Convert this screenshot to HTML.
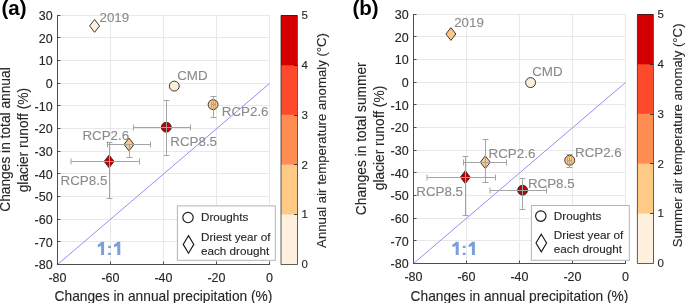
<!DOCTYPE html>
<html><head><meta charset="utf-8"><style>
html,body{margin:0;padding:0;background:#fff;overflow:hidden;}
svg{display:block;font-family:"Liberation Sans", sans-serif;will-change:transform;} .dk{stroke:#262626;stroke-width:0.12px} .gy{stroke:#8a8a8a;stroke-width:0.1px}
</style></head><body>
<svg width="685" height="303" viewBox="0 0 685 303">
<rect width="685" height="303" fill="#fff"/>
<text x="1.5" y="14.8" font-size="20.5" font-weight="bold" fill="#000" stroke="none">(a)</text>
<line x1="57.5" x2="270.0" y1="15.5" y2="15.5" stroke="#e8e8e8" stroke-width="1"/>
<line x1="57.5" x2="270.0" y1="37.5" y2="37.5" stroke="#e8e8e8" stroke-width="1"/>
<line x1="57.5" x2="270.0" y1="60.5" y2="60.5" stroke="#e8e8e8" stroke-width="1"/>
<line x1="57.5" x2="270.0" y1="83.5" y2="83.5" stroke="#e8e8e8" stroke-width="1"/>
<line x1="57.5" x2="270.0" y1="105.5" y2="105.5" stroke="#e8e8e8" stroke-width="1"/>
<line x1="57.5" x2="270.0" y1="128.5" y2="128.5" stroke="#e8e8e8" stroke-width="1"/>
<line x1="57.5" x2="270.0" y1="151.5" y2="151.5" stroke="#e8e8e8" stroke-width="1"/>
<line x1="57.5" x2="270.0" y1="173.5" y2="173.5" stroke="#e8e8e8" stroke-width="1"/>
<line x1="57.5" x2="270.0" y1="196.5" y2="196.5" stroke="#e8e8e8" stroke-width="1"/>
<line x1="57.5" x2="270.0" y1="219.5" y2="219.5" stroke="#e8e8e8" stroke-width="1"/>
<line x1="57.5" x2="270.0" y1="241.5" y2="241.5" stroke="#e8e8e8" stroke-width="1"/>
<line x1="110.5" x2="110.5" y1="15" y2="264" stroke="#e8e8e8" stroke-width="1"/>
<line x1="163.5" x2="163.5" y1="15" y2="264" stroke="#e8e8e8" stroke-width="1"/>
<line x1="216.5" x2="216.5" y1="15" y2="264" stroke="#e8e8e8" stroke-width="1"/>
<line x1="269.5" x2="269.5" y1="15" y2="264" stroke="#e8e8e8" stroke-width="1"/>
<line x1="57.5" y1="264.5" x2="269.5" y2="83.5" stroke="#9090f8" stroke-width="1"/>
<line x1="57.5" x2="57.5" y1="15" y2="265" stroke="#4d4d4d" stroke-width="1"/>
<line x1="57.0" x2="270.0" y1="264.5" y2="264.5" stroke="#4d4d4d" stroke-width="1"/>
<line x1="57.5" x2="60.5" y1="15.5" y2="15.5" stroke="#4d4d4d" stroke-width="1"/>
<line x1="57.5" x2="60.5" y1="37.5" y2="37.5" stroke="#4d4d4d" stroke-width="1"/>
<line x1="57.5" x2="60.5" y1="60.5" y2="60.5" stroke="#4d4d4d" stroke-width="1"/>
<line x1="57.5" x2="60.5" y1="83.5" y2="83.5" stroke="#4d4d4d" stroke-width="1"/>
<line x1="57.5" x2="60.5" y1="105.5" y2="105.5" stroke="#4d4d4d" stroke-width="1"/>
<line x1="57.5" x2="60.5" y1="128.5" y2="128.5" stroke="#4d4d4d" stroke-width="1"/>
<line x1="57.5" x2="60.5" y1="151.5" y2="151.5" stroke="#4d4d4d" stroke-width="1"/>
<line x1="57.5" x2="60.5" y1="173.5" y2="173.5" stroke="#4d4d4d" stroke-width="1"/>
<line x1="57.5" x2="60.5" y1="196.5" y2="196.5" stroke="#4d4d4d" stroke-width="1"/>
<line x1="57.5" x2="60.5" y1="219.5" y2="219.5" stroke="#4d4d4d" stroke-width="1"/>
<line x1="57.5" x2="60.5" y1="241.5" y2="241.5" stroke="#4d4d4d" stroke-width="1"/>
<line x1="110.5" x2="110.5" y1="261.5" y2="264" stroke="#4d4d4d" stroke-width="1"/>
<line x1="163.5" x2="163.5" y1="261.5" y2="264" stroke="#4d4d4d" stroke-width="1"/>
<line x1="216.5" x2="216.5" y1="261.5" y2="264" stroke="#4d4d4d" stroke-width="1"/>
<line x1="269.5" x2="269.5" y1="261.5" y2="264" stroke="#4d4d4d" stroke-width="1"/>
<text x="52.6" y="20.05" font-size="12.5" text-anchor="end" class="dk" fill="#262626">30</text>
<text x="52.6" y="42.71" font-size="12.5" text-anchor="end" class="dk" fill="#262626">20</text>
<text x="52.6" y="65.37" font-size="12.5" text-anchor="end" class="dk" fill="#262626">10</text>
<text x="52.6" y="88.03" font-size="12.5" text-anchor="end" class="dk" fill="#262626">0</text>
<text x="52.6" y="110.69" font-size="12.5" text-anchor="end" class="dk" fill="#262626">-10</text>
<text x="52.6" y="133.35" font-size="12.5" text-anchor="end" class="dk" fill="#262626">-20</text>
<text x="52.6" y="156.01" font-size="12.5" text-anchor="end" class="dk" fill="#262626">-30</text>
<text x="52.6" y="178.67" font-size="12.5" text-anchor="end" class="dk" fill="#262626">-40</text>
<text x="52.6" y="201.33" font-size="12.5" text-anchor="end" class="dk" fill="#262626">-50</text>
<text x="52.6" y="223.99" font-size="12.5" text-anchor="end" class="dk" fill="#262626">-60</text>
<text x="52.6" y="246.65" font-size="12.5" text-anchor="end" class="dk" fill="#262626">-70</text>
<text x="52.6" y="269.31" font-size="12.5" text-anchor="end" class="dk" fill="#262626">-80</text>
<text x="57.5" y="282.2" font-size="12.5" text-anchor="middle" class="dk" fill="#262626">-80</text>
<text x="110.5" y="282.2" font-size="12.5" text-anchor="middle" class="dk" fill="#262626">-60</text>
<text x="163.5" y="282.2" font-size="12.5" text-anchor="middle" class="dk" fill="#262626">-40</text>
<text x="216.5" y="282.2" font-size="12.5" text-anchor="middle" class="dk" fill="#262626">-20</text>
<text x="269.5" y="282.2" font-size="12.5" text-anchor="middle" class="dk" fill="#262626">0</text>
<text x="163.5" y="300.6" font-size="13.75" text-anchor="middle" class="dk" fill="#262626">Changes in annual precipitation (%)</text>
<text transform="translate(10,139.55) rotate(-90)" font-size="13.75" text-anchor="middle" class="dk" fill="#262626">Changes in total annual</text>
<text transform="translate(28.2,140.1) rotate(-90)" font-size="13.75" text-anchor="middle" class="dk" fill="#262626">glacier runoff (%)</text>
<path d="M101.10 241.8 L104.10 241.8 L104.10 255.1 L101.10 255.1 L101.10 245.9 L97.80 247.3 L97.80 244.6 L100.10 243.3 L101.10 241.8 ZM117.30 241.8 L120.30 241.8 L120.30 255.1 L117.30 255.1 L117.30 245.9 L114.00 247.3 L114.00 244.6 L116.30 243.3 L117.30 241.8 ZM108.20 245.8 h2.7 v2.3 h-2.7 Z M108.20 252.7 h2.7 v2.4 h-2.7 Z" fill="#7b9fdb"/>
<path class="mk" d="M94.6 19.5 L99.6 25.9 L94.6 32.3 L89.6 25.9 Z" fill="#feefdc" stroke="#303030" stroke-width="0.95"/>
<text class="ann gy" x="99.5" y="21.9" font-size="13.35" fill="#8a8a8a">2019</text>
<circle class="mk" cx="174.3" cy="86.1" r="4.95" fill="#feefdc" stroke="#303030" stroke-width="0.95"/>
<text class="ann gy" x="177.2" y="80.3" font-size="13.35" fill="#8a8a8a">CMD</text>
<circle class="mk" cx="213.1" cy="104.6" r="4.95" fill="#fdc788" stroke="#303030" stroke-width="0.95"/>
<line x1="213.5" x2="213.5" y1="96.5" y2="117.5" stroke="#a4a4a4" stroke-width="1"/>
<line x1="210.5" x2="216.5" y1="96.5" y2="96.5" stroke="#a4a4a4" stroke-width="1"/>
<line x1="210.5" x2="216.5" y1="117.5" y2="117.5" stroke="#a4a4a4" stroke-width="1"/>
<line x1="211.5" x2="215.5" y1="104.5" y2="104.5" stroke="#a4a4a4" stroke-width="1"/>
<line x1="211.5" x2="211.5" y1="101.5" y2="107.5" stroke="#a4a4a4" stroke-width="1"/>
<line x1="215.5" x2="215.5" y1="101.5" y2="107.5" stroke="#a4a4a4" stroke-width="1"/>
<text class="ann gy" x="221.8" y="116.2" font-size="13.35" fill="#8a8a8a">RCP2.6</text>
<circle class="mk" cx="166.3" cy="127.2" r="4.95" fill="#bd0000" stroke="#303030" stroke-width="0.95"/>
<line x1="166.5" x2="166.5" y1="100.5" y2="155.5" stroke="#a4a4a4" stroke-width="1"/>
<line x1="163.5" x2="169.5" y1="100.5" y2="100.5" stroke="#a4a4a4" stroke-width="1"/>
<line x1="163.5" x2="169.5" y1="155.5" y2="155.5" stroke="#a4a4a4" stroke-width="1"/>
<line x1="133.5" x2="190.5" y1="127.5" y2="127.5" stroke="#a4a4a4" stroke-width="1"/>
<line x1="133.5" x2="133.5" y1="124.5" y2="130.5" stroke="#a4a4a4" stroke-width="1"/>
<line x1="190.5" x2="190.5" y1="124.5" y2="130.5" stroke="#a4a4a4" stroke-width="1"/>
<text class="ann gy" x="170.3" y="146.4" font-size="13.35" fill="#8a8a8a">RCP8.5</text>
<path class="mk" d="M129 138.1 L134.0 144.5 L129 150.9 L124.0 144.5 Z" fill="#fdc788" stroke="#303030" stroke-width="0.95"/>
<line x1="129.5" x2="129.5" y1="144.5" y2="157.5" stroke="#a4a4a4" stroke-width="1"/>
<line x1="126.5" x2="132.5" y1="157.5" y2="157.5" stroke="#a4a4a4" stroke-width="1"/>
<line x1="107.5" x2="150.5" y1="144.5" y2="144.5" stroke="#a4a4a4" stroke-width="1"/>
<line x1="107.5" x2="107.5" y1="141.5" y2="147.5" stroke="#a4a4a4" stroke-width="1"/>
<line x1="150.5" x2="150.5" y1="141.5" y2="147.5" stroke="#a4a4a4" stroke-width="1"/>
<text class="ann gy" x="82.4" y="139.6" font-size="13.35" fill="#8a8a8a">RCP2.6</text>
<path class="mk" d="M109.1 155.0 L114.1 161.4 L109.1 167.8 L104.1 161.4 Z" fill="#bd0000" stroke="#303030" stroke-width="0.95"/>
<line x1="109.5" x2="109.5" y1="142.5" y2="198.5" stroke="#a4a4a4" stroke-width="1"/>
<line x1="106.5" x2="112.5" y1="142.5" y2="142.5" stroke="#a4a4a4" stroke-width="1"/>
<line x1="106.5" x2="112.5" y1="198.5" y2="198.5" stroke="#a4a4a4" stroke-width="1"/>
<line x1="71" x2="139.5" y1="161.5" y2="161.5" stroke="#a4a4a4" stroke-width="1"/>
<line x1="71" x2="71" y1="158.5" y2="164.5" stroke="#a4a4a4" stroke-width="1"/>
<line x1="139.5" x2="139.5" y1="158.5" y2="164.5" stroke="#a4a4a4" stroke-width="1"/>
<text class="ann gy" x="60.6" y="184.6" font-size="13.35" fill="#8a8a8a">RCP8.5</text>
<rect x="177.4" y="205.9" width="97.9" height="54.4" fill="#fff" stroke="#b4b4b4" stroke-width="1"/>
<circle cx="188" cy="217.5" r="5.2" fill="none" stroke="#1a1a1a" stroke-width="1.15"/>
<path d="M188.5 235.6 L193.8 244.4 L188.5 253.2 L183.2 244.4 Z" fill="none" stroke="#1a1a1a" stroke-width="1.15"/>
<text x="201" y="221.4" font-size="11.7" class="dk" fill="#262626">Droughts</text>
<text x="201" y="240.7" font-size="11.7" class="dk" fill="#262626">Driest year of</text>
<text x="201" y="254.7" font-size="11.7" class="dk" fill="#262626">each drought</text>
<rect x="281.0" y="214.20" width="16.00" height="49.80" fill="#ffefdd"/>
<rect x="281.0" y="164.40" width="16.00" height="50.10" fill="#ffc986"/>
<rect x="281.0" y="114.60" width="16.00" height="50.10" fill="#ff8c50"/>
<rect x="281.0" y="64.80" width="16.00" height="50.10" fill="#fe4a2c"/>
<rect x="281.0" y="15.00" width="16.00" height="50.30" fill="#d40000"/>
<path d="M281.0 15.5 H297.5 V264.5 H281.0 Z" fill="none" stroke="rgba(30,30,30,0.72)" stroke-width="1"/>
<text x="301.5" y="268.20" font-size="11.5" class="dk" fill="#262626">0</text>
<line x1="294.0" x2="297.5" y1="214.5" y2="214.5" stroke="rgba(30,30,30,0.8)" stroke-width="1"/>
<text x="301.5" y="218.40" font-size="11.5" class="dk" fill="#262626">1</text>
<line x1="294.0" x2="297.5" y1="164.5" y2="164.5" stroke="rgba(30,30,30,0.8)" stroke-width="1"/>
<text x="301.5" y="168.60" font-size="11.5" class="dk" fill="#262626">2</text>
<line x1="294.0" x2="297.5" y1="115.5" y2="115.5" stroke="rgba(30,30,30,0.8)" stroke-width="1"/>
<text x="301.5" y="118.80" font-size="11.5" class="dk" fill="#262626">3</text>
<line x1="294.0" x2="297.5" y1="65.5" y2="65.5" stroke="rgba(30,30,30,0.8)" stroke-width="1"/>
<text x="301.5" y="69.00" font-size="11.5" class="dk" fill="#262626">4</text>
<text x="301.5" y="19.20" font-size="11.5" class="dk" fill="#262626">5</text>
<text transform="translate(325.5,140.45) rotate(-90)" font-size="13.2" text-anchor="middle" class="dk" fill="#262626">Annual air temperature anomaly (°C)</text>
<text x="352.5" y="14.8" font-size="20.5" font-weight="bold" fill="#000" stroke="none">(b)</text>
<line x1="413.5" x2="626.0" y1="14.5" y2="14.5" stroke="#e8e8e8" stroke-width="1"/>
<line x1="413.5" x2="626.0" y1="36.5" y2="36.5" stroke="#e8e8e8" stroke-width="1"/>
<line x1="413.5" x2="626.0" y1="59.5" y2="59.5" stroke="#e8e8e8" stroke-width="1"/>
<line x1="413.5" x2="626.0" y1="82.5" y2="82.5" stroke="#e8e8e8" stroke-width="1"/>
<line x1="413.5" x2="626.0" y1="104.5" y2="104.5" stroke="#e8e8e8" stroke-width="1"/>
<line x1="413.5" x2="626.0" y1="127.5" y2="127.5" stroke="#e8e8e8" stroke-width="1"/>
<line x1="413.5" x2="626.0" y1="150.5" y2="150.5" stroke="#e8e8e8" stroke-width="1"/>
<line x1="413.5" x2="626.0" y1="172.5" y2="172.5" stroke="#e8e8e8" stroke-width="1"/>
<line x1="413.5" x2="626.0" y1="195.5" y2="195.5" stroke="#e8e8e8" stroke-width="1"/>
<line x1="413.5" x2="626.0" y1="218.5" y2="218.5" stroke="#e8e8e8" stroke-width="1"/>
<line x1="413.5" x2="626.0" y1="240.5" y2="240.5" stroke="#e8e8e8" stroke-width="1"/>
<line x1="466.5" x2="466.5" y1="14" y2="263" stroke="#e8e8e8" stroke-width="1"/>
<line x1="519.5" x2="519.5" y1="14" y2="263" stroke="#e8e8e8" stroke-width="1"/>
<line x1="572.5" x2="572.5" y1="14" y2="263" stroke="#e8e8e8" stroke-width="1"/>
<line x1="625.5" x2="625.5" y1="14" y2="263" stroke="#e8e8e8" stroke-width="1"/>
<line x1="413.5" y1="263.5" x2="625.5" y2="82.5" stroke="#9090f8" stroke-width="1"/>
<line x1="413.5" x2="413.5" y1="14" y2="264" stroke="#4d4d4d" stroke-width="1"/>
<line x1="413.0" x2="626.0" y1="263.5" y2="263.5" stroke="#4d4d4d" stroke-width="1"/>
<line x1="413.5" x2="416.5" y1="14.5" y2="14.5" stroke="#4d4d4d" stroke-width="1"/>
<line x1="413.5" x2="416.5" y1="36.5" y2="36.5" stroke="#4d4d4d" stroke-width="1"/>
<line x1="413.5" x2="416.5" y1="59.5" y2="59.5" stroke="#4d4d4d" stroke-width="1"/>
<line x1="413.5" x2="416.5" y1="82.5" y2="82.5" stroke="#4d4d4d" stroke-width="1"/>
<line x1="413.5" x2="416.5" y1="104.5" y2="104.5" stroke="#4d4d4d" stroke-width="1"/>
<line x1="413.5" x2="416.5" y1="127.5" y2="127.5" stroke="#4d4d4d" stroke-width="1"/>
<line x1="413.5" x2="416.5" y1="150.5" y2="150.5" stroke="#4d4d4d" stroke-width="1"/>
<line x1="413.5" x2="416.5" y1="172.5" y2="172.5" stroke="#4d4d4d" stroke-width="1"/>
<line x1="413.5" x2="416.5" y1="195.5" y2="195.5" stroke="#4d4d4d" stroke-width="1"/>
<line x1="413.5" x2="416.5" y1="218.5" y2="218.5" stroke="#4d4d4d" stroke-width="1"/>
<line x1="413.5" x2="416.5" y1="240.5" y2="240.5" stroke="#4d4d4d" stroke-width="1"/>
<line x1="466.5" x2="466.5" y1="260.5" y2="263" stroke="#4d4d4d" stroke-width="1"/>
<line x1="519.5" x2="519.5" y1="260.5" y2="263" stroke="#4d4d4d" stroke-width="1"/>
<line x1="572.5" x2="572.5" y1="260.5" y2="263" stroke="#4d4d4d" stroke-width="1"/>
<line x1="625.5" x2="625.5" y1="260.5" y2="263" stroke="#4d4d4d" stroke-width="1"/>
<text x="408.6" y="19.05" font-size="12.5" text-anchor="end" class="dk" fill="#262626">30</text>
<text x="408.6" y="41.71" font-size="12.5" text-anchor="end" class="dk" fill="#262626">20</text>
<text x="408.6" y="64.37" font-size="12.5" text-anchor="end" class="dk" fill="#262626">10</text>
<text x="408.6" y="87.03" font-size="12.5" text-anchor="end" class="dk" fill="#262626">0</text>
<text x="408.6" y="109.69" font-size="12.5" text-anchor="end" class="dk" fill="#262626">-10</text>
<text x="408.6" y="132.35" font-size="12.5" text-anchor="end" class="dk" fill="#262626">-20</text>
<text x="408.6" y="155.01" font-size="12.5" text-anchor="end" class="dk" fill="#262626">-30</text>
<text x="408.6" y="177.67" font-size="12.5" text-anchor="end" class="dk" fill="#262626">-40</text>
<text x="408.6" y="200.33" font-size="12.5" text-anchor="end" class="dk" fill="#262626">-50</text>
<text x="408.6" y="222.99" font-size="12.5" text-anchor="end" class="dk" fill="#262626">-60</text>
<text x="408.6" y="245.65" font-size="12.5" text-anchor="end" class="dk" fill="#262626">-70</text>
<text x="408.6" y="268.31" font-size="12.5" text-anchor="end" class="dk" fill="#262626">-80</text>
<text x="413.5" y="281.2" font-size="12.5" text-anchor="middle" class="dk" fill="#262626">-80</text>
<text x="466.5" y="281.2" font-size="12.5" text-anchor="middle" class="dk" fill="#262626">-60</text>
<text x="519.5" y="281.2" font-size="12.5" text-anchor="middle" class="dk" fill="#262626">-40</text>
<text x="572.5" y="281.2" font-size="12.5" text-anchor="middle" class="dk" fill="#262626">-20</text>
<text x="625.5" y="281.2" font-size="12.5" text-anchor="middle" class="dk" fill="#262626">0</text>
<text x="519.5" y="300.6" font-size="13.75" text-anchor="middle" class="dk" fill="#262626">Changes in annual precipitation (%)</text>
<text transform="translate(366,138.75) rotate(-90)" font-size="13.75" text-anchor="middle" class="dk" fill="#262626">Changes in total summer</text>
<text transform="translate(384.2,138.0) rotate(-90)" font-size="13.75" text-anchor="middle" class="dk" fill="#262626">glacier runoff (%)</text>
<path d="M455.70 241.8 L458.70 241.8 L458.70 255.1 L455.70 255.1 L455.70 245.9 L452.40 247.3 L452.40 244.6 L454.70 243.3 L455.70 241.8 ZM471.90 241.8 L474.90 241.8 L474.90 255.1 L471.90 255.1 L471.90 245.9 L468.60 247.3 L468.60 244.6 L470.90 243.3 L471.90 241.8 ZM462.80 245.8 h2.7 v2.3 h-2.7 Z M462.80 252.7 h2.7 v2.4 h-2.7 Z" fill="#7b9fdb"/>
<path class="mk" d="M450.9 27.6 L455.9 34 L450.9 40.4 L445.9 34 Z" fill="#fdc788" stroke="#303030" stroke-width="0.95"/>
<text class="ann gy" x="454.2" y="27.2" font-size="13.35" fill="#8a8a8a">2019</text>
<circle class="mk" cx="530.6" cy="82.6" r="4.95" fill="#feefdc" stroke="#303030" stroke-width="0.95"/>
<text class="ann gy" x="532.2" y="75.7" font-size="13.35" fill="#8a8a8a">CMD</text>
<circle class="mk" cx="569.7" cy="160.3" r="4.95" fill="#fdc788" stroke="#303030" stroke-width="0.95"/>
<line x1="569.5" x2="569.5" y1="154.5" y2="167.5" stroke="#a4a4a4" stroke-width="1"/>
<line x1="566.5" x2="572.5" y1="154.5" y2="154.5" stroke="#a4a4a4" stroke-width="1"/>
<line x1="566.5" x2="572.5" y1="167.5" y2="167.5" stroke="#a4a4a4" stroke-width="1"/>
<line x1="567.5" x2="571.5" y1="160.5" y2="160.5" stroke="#a4a4a4" stroke-width="1"/>
<line x1="567.5" x2="567.5" y1="157.5" y2="163.5" stroke="#a4a4a4" stroke-width="1"/>
<line x1="571.5" x2="571.5" y1="157.5" y2="163.5" stroke="#a4a4a4" stroke-width="1"/>
<text class="ann gy" x="575.0" y="157.2" font-size="13.35" fill="#8a8a8a">RCP2.6</text>
<circle class="mk" cx="522.6" cy="190.2" r="4.95" fill="#bd0000" stroke="#303030" stroke-width="0.95"/>
<line x1="522.5" x2="522.5" y1="178.5" y2="209.5" stroke="#a4a4a4" stroke-width="1"/>
<line x1="519.5" x2="525.5" y1="178.5" y2="178.5" stroke="#a4a4a4" stroke-width="1"/>
<line x1="519.5" x2="525.5" y1="209.5" y2="209.5" stroke="#a4a4a4" stroke-width="1"/>
<line x1="490" x2="546.5" y1="190.5" y2="190.5" stroke="#a4a4a4" stroke-width="1"/>
<line x1="490" x2="490" y1="187.5" y2="193.5" stroke="#a4a4a4" stroke-width="1"/>
<line x1="546.5" x2="546.5" y1="187.5" y2="193.5" stroke="#a4a4a4" stroke-width="1"/>
<text class="ann gy" x="527.9" y="188.4" font-size="13.35" fill="#8a8a8a">RCP8.5</text>
<path class="mk" d="M485.3 155.79999999999998 L490.3 162.2 L485.3 168.6 L480.3 162.2 Z" fill="#fdc788" stroke="#303030" stroke-width="0.95"/>
<line x1="485.5" x2="485.5" y1="139.5" y2="182.5" stroke="#a4a4a4" stroke-width="1"/>
<line x1="482.5" x2="488.5" y1="139.5" y2="139.5" stroke="#a4a4a4" stroke-width="1"/>
<line x1="482.5" x2="488.5" y1="182.5" y2="182.5" stroke="#a4a4a4" stroke-width="1"/>
<line x1="463.5" x2="506.5" y1="162.5" y2="162.5" stroke="#a4a4a4" stroke-width="1"/>
<line x1="463.5" x2="463.5" y1="159.5" y2="165.5" stroke="#a4a4a4" stroke-width="1"/>
<line x1="506.5" x2="506.5" y1="159.5" y2="165.5" stroke="#a4a4a4" stroke-width="1"/>
<text class="ann gy" x="488.6" y="158.1" font-size="13.35" fill="#8a8a8a">RCP2.6</text>
<path class="mk" d="M465.3 170.79999999999998 L470.3 177.2 L465.3 183.6 L460.3 177.2 Z" fill="#bd0000" stroke="#303030" stroke-width="0.95"/>
<line x1="465.5" x2="465.5" y1="156.5" y2="215.5" stroke="#a4a4a4" stroke-width="1"/>
<line x1="462.5" x2="468.5" y1="156.5" y2="156.5" stroke="#a4a4a4" stroke-width="1"/>
<line x1="462.5" x2="468.5" y1="215.5" y2="215.5" stroke="#a4a4a4" stroke-width="1"/>
<line x1="427" x2="495.5" y1="177.5" y2="177.5" stroke="#a4a4a4" stroke-width="1"/>
<line x1="427" x2="427" y1="174.5" y2="180.5" stroke="#a4a4a4" stroke-width="1"/>
<line x1="495.5" x2="495.5" y1="174.5" y2="180.5" stroke="#a4a4a4" stroke-width="1"/>
<text class="ann gy" x="416.3" y="195.8" font-size="13.35" fill="#8a8a8a">RCP8.5</text>
<rect x="531.4" y="205.5" width="97.9" height="54.8" fill="#fff" stroke="#b4b4b4" stroke-width="1"/>
<circle cx="540.8" cy="216.1" r="5.2" fill="none" stroke="#1a1a1a" stroke-width="1.15"/>
<path d="M541.3 234.2 L546.6 243.0 L541.3 251.79999999999998 L536.0 243.0 Z" fill="none" stroke="#1a1a1a" stroke-width="1.15"/>
<text x="553.8" y="220.0" font-size="11.7" class="dk" fill="#262626">Droughts</text>
<text x="553.8" y="239.29999999999998" font-size="11.7" class="dk" fill="#262626">Driest year of</text>
<text x="553.8" y="253.29999999999998" font-size="11.7" class="dk" fill="#262626">each drought</text>
<rect x="637.4" y="213.20" width="15.60" height="49.80" fill="#ffefdd"/>
<rect x="637.4" y="163.40" width="15.60" height="50.10" fill="#ffc986"/>
<rect x="637.4" y="113.60" width="15.60" height="50.10" fill="#ff8c50"/>
<rect x="637.4" y="63.80" width="15.60" height="50.10" fill="#fe4a2c"/>
<rect x="637.4" y="14.00" width="15.60" height="50.30" fill="#d40000"/>
<path d="M637.4 14.5 H653.5 V263.5 H637.4 Z" fill="none" stroke="rgba(30,30,30,0.72)" stroke-width="1"/>
<text x="657.5" y="267.20" font-size="11.5" class="dk" fill="#262626">0</text>
<line x1="650.0" x2="653.5" y1="213.5" y2="213.5" stroke="rgba(30,30,30,0.8)" stroke-width="1"/>
<text x="657.5" y="217.40" font-size="11.5" class="dk" fill="#262626">1</text>
<line x1="650.0" x2="653.5" y1="163.5" y2="163.5" stroke="rgba(30,30,30,0.8)" stroke-width="1"/>
<text x="657.5" y="167.60" font-size="11.5" class="dk" fill="#262626">2</text>
<line x1="650.0" x2="653.5" y1="114.5" y2="114.5" stroke="rgba(30,30,30,0.8)" stroke-width="1"/>
<text x="657.5" y="117.80" font-size="11.5" class="dk" fill="#262626">3</text>
<line x1="650.0" x2="653.5" y1="64.5" y2="64.5" stroke="rgba(30,30,30,0.8)" stroke-width="1"/>
<text x="657.5" y="68.00" font-size="11.5" class="dk" fill="#262626">4</text>
<text x="657.5" y="18.20" font-size="11.5" class="dk" fill="#262626">5</text>
<text transform="translate(681.5,135.3) rotate(-90)" font-size="13.2" text-anchor="middle" class="dk" fill="#262626">Summer air temperature anomaly (°C)</text>
</svg></body></html>
